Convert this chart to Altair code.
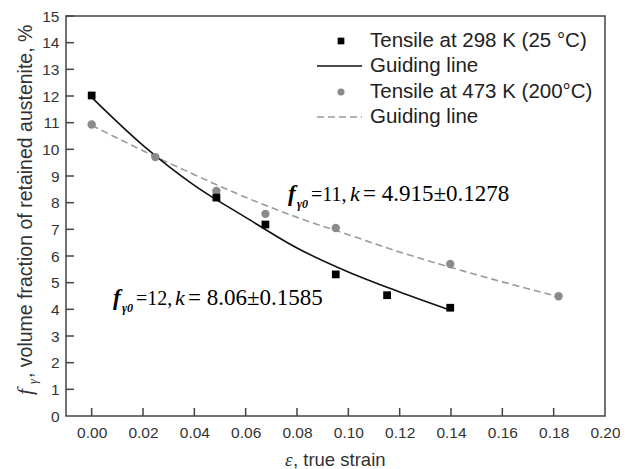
import altair as alt
import pandas as pd

# ---- data ----
x_298 = [0.000, 0.0486, 0.0677, 0.0951, 0.1151, 0.1397]
y_298 = [12.02, 8.19, 7.18, 5.31, 4.53, 4.06]
x_473 = [0.000, 0.0248, 0.0486, 0.0677, 0.0951, 0.1397, 0.1819]
y_473 = [10.93, 9.71, 8.44, 7.58, 7.05, 5.70, 4.49]
guide_298_x = [0.00, 0.02, 0.04, 0.06, 0.08, 0.10, 0.12, 0.14]
guide_298_y = [11.95, 10.15, 8.65, 7.45, 6.30, 5.40, 4.65, 3.96]
guide_473_x = [0.00, 0.02, 0.04, 0.06, 0.08, 0.10, 0.12, 0.14, 0.16, 0.18]
guide_473_y = [10.90, 9.95, 9.05, 8.20, 7.45, 6.80, 6.15, 5.57, 5.03, 4.52]
x_ticks = [0.00, 0.02, 0.04, 0.06, 0.08, 0.10, 0.12, 0.14, 0.16, 0.18, 0.20]
y_ticks = list(range(0, 16))
legend_labels = ["Tensile at 298 K (25 °C)", "Guiding line",
                 "Tensile at 473 K (200°C)", "Guiding line"]
annot_298 = ["f", "γ0", "=12,", "k", "= 8.06±0.1585"]
annot_473 = ["f", "γ0", "=11,", "k", "= 4.915±0.1278"]
y_title = ["f", "γ", ", volume fraction of retained austenite, %"]
x_title = ["ε", ", true strain"]

SANS = "Liberation Sans"
SERIF = "Liberation Serif"
AX = "#444444"

d298 = pd.DataFrame({"x": x_298, "y": y_298})
d473 = pd.DataFrame({"x": x_473, "y": y_473})
g298 = pd.DataFrame({"x": guide_298_x, "y": guide_298_y})
g473 = pd.DataFrame({"x": guide_473_x, "y": guide_473_y})
tx = pd.DataFrame({"x": x_ticks[:-1]})
ty = pd.DataFrame({"y": y_ticks[1:]})
one = pd.DataFrame({"a": [0]})

xs = alt.Scale(domain=[-0.01, 0.20], nice=False, zero=False)
ys = alt.Scale(domain=[0, 15], nice=False, zero=True)
xaxis = alt.Axis(values=x_ticks, format=".2f", title=None, grid=False, ticks=False,
                 domain=False, labelFont=SANS, labelFontSize=15.5, labelColor="#333333",
                 labelPadding=9, labelFlush=False)
yaxis = alt.Axis(values=y_ticks, format="d", title=None, grid=False, ticks=False,
                 domain=False, labelFont=SANS, labelFontSize=15.5, labelColor="#333333",
                 labelPadding=7)
X = alt.X("x:Q", scale=xs, axis=xaxis)
Y = alt.Y("y:Q", scale=ys, axis=yaxis)

line298 = alt.Chart(g298).mark_line(color="#111111", strokeWidth=1.6,
                                    interpolate="monotone").encode(x=X, y=Y)
line473 = alt.Chart(g473).mark_line(color="#9a9a9a", strokeWidth=1.6, strokeDash=[7, 4],
                                    interpolate="monotone").encode(x=X, y=Y)
pts473 = alt.Chart(d473).mark_point(shape="circle", filled=True, size=70, opacity=1,
                                    color="#8a8a8a").encode(x=X, y=Y)
pts298 = alt.Chart(d298).mark_point(shape="square", filled=True, size=60, opacity=1,
                                    color="#000000").encode(x=X, y=Y)
xt = alt.Chart(tx).mark_rule(color=AX, strokeWidth=1.5).encode(
    x=X, y=alt.value(400), y2=alt.value(392))
yt = alt.Chart(ty).mark_rule(color=AX, strokeWidth=1.5).encode(
    y=Y, x=alt.value(0), x2=alt.value(8))


def txt(s, x, y, size, font=SERIF, style="normal", weight="normal", angle=0,
        color="#000000", align="left", baseline="alphabetic"):
    return alt.Chart(one).mark_text(text=s, fontSize=size, font=font, fontStyle=style,
                                    fontWeight=weight, angle=angle, color=color,
                                    align=align, baseline=baseline).encode(
        x=alt.value(x), y=alt.value(y))


layers = [line473, line298, pts473, pts298, xt, yt]

# annotations
for parts, x0, yb in [(annot_473, 222, 185), (annot_298, 47, 289)]:
    layers.append(txt(parts[0], x0, yb, 23, style="italic", weight="bold"))
    layers.append(txt(parts[1], x0 + 9, yb + 7, 12, style="italic", weight="bold"))
    layers.append(txt(parts[2], x0 + 23, yb, 20))
    layers.append(txt(parts[3], x0 + 62, yb, 22, style="italic"))
    layers.append(txt(parts[4], x0 + 75, yb, 23))

# legend
lx_sym, lx_txt = 275, 304
rows = [25, 50, 76, 101]
layers.append(alt.Chart(one).mark_point(shape="square", filled=True, size=45, opacity=1,
                                        color="#000000").encode(x=alt.value(lx_sym), y=alt.value(rows[0])))
layers.append(alt.Chart(one).mark_rule(color="#111111", strokeWidth=1.6).encode(
    x=alt.value(251), x2=alt.value(296), y=alt.value(rows[1])))
layers.append(alt.Chart(one).mark_point(shape="circle", filled=True, size=50, opacity=1,
                                        color="#8a8a8a").encode(x=alt.value(lx_sym), y=alt.value(rows[2])))
layers.append(alt.Chart(one).mark_rule(color="#9a9a9a", strokeWidth=1.6, strokeDash=[7, 4]).encode(
    x=alt.value(251), x2=alt.value(296), y=alt.value(rows[3])))
for lab, ry in zip(legend_labels, rows):
    layers.append(txt(lab, lx_txt, ry, 20.5, font=SANS, color="#222222", baseline="middle"))

# y title (rotated)
layers.append(txt(y_title[0], -34, 379, 22, style="italic", angle=270, color="#333333"))
layers.append(txt(y_title[1], -29, 368, 12, style="italic", angle=270, color="#333333"))
layers.append(txt(y_title[2], -34, 362, 19.5, font=SANS, angle=270, color="#333333"))

# x title
layers.append(txt(x_title[0], 219, 450, 19, style="italic", color="#333333"))
layers.append(txt(x_title[1], 227, 450, 18.5, font=SANS, color="#333333"))

chart = alt.layer(*layers).properties(
    width=539, height=400,
    autosize=alt.AutoSizeParams(type="none"),
    padding={"left": 58, "top": 8, "right": 15, "bottom": 53},
).configure_view(stroke=AX, strokeWidth=1.5)

chart.save("out.html", embed_options={"renderer": "svg", "actions": False})
